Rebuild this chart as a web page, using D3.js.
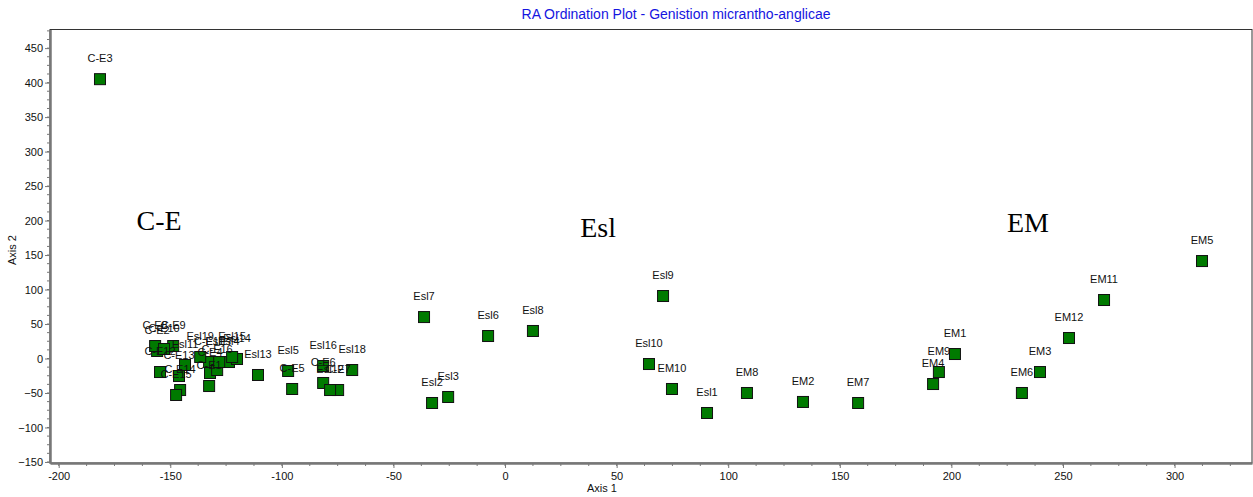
<!DOCTYPE html>
<html>
<head>
<meta charset="utf-8">
<script src="https://cdn.jsdelivr.net/npm/d3@7"></script>
<style>
  html, body { margin: 0; padding: 0; background: #fff; }
  svg { display: block; }
</style>
</head>
<body>
<svg id="chart" width="1253" height="497"></svg>
<script>
// ---- data ----
const sampleNames = [
  "C-E1","C-E2","C-E3","C-E4","C-E5","C-E6","C-E7","C-E8","C-E9","C-E10","C-E11","C-E12","C-E13","C-E14","C-E15","C-E16",
  "Esl1","Esl2","Esl3","Esl4","Esl5","Esl6","Esl7","Esl8","Esl9","Esl10","Esl11","Esl12","Esl13","Esl14","Esl15","Esl16","Esl17","Esl18","Esl19",
  "EM1","EM2","EM3","EM4","EM5","EM6","EM7","EM8","EM9","EM10","EM11","EM12"
];
const axis1Values = [
  -132.6,-155.9,-181.5,-132.2,-95.4,-81.5,-74.8,-156.8,-148.7,-152.8,-132.6,-154.6,-146.1,-145.6,-147.4,-129.0,
  90.5,-32.7,-25.5,-123.7,-97.2,-7.6,-36.3,12.5,70.8,64.5,-143.4,-78.4,-110.7,-120.1,-122.3,-81.5,-128.1,-68.5,-136.6,
  201.6,133.5,239.7,191.8,312.3,231.6,158.2,108.4,194.4,74.8,268.4,252.7
];
const axis2Values = [
  -39.9,10.9,405.0,-21.0,-44.2,-35.5,-45.7,18.1,18.1,13.8,-5.1,-19.6,-25.4,-45.7,-52.9,-16.7,
  -79.0,-64.5,-55.8,-5.1,-18.1,32.6,60.1,39.9,90.6,-8.0,-9.4,-45.7,-23.9,-0.7,2.2,-10.9,-5.1,-16.7,2.2,
  6.5,-63.0,-19.6,-37.0,141.3,-50.0,-64.5,-50.0,-19.6,-44.2,84.8,29.7
];
const xTickValues = [-200,-150,-100,-50,0,50,100,150,200,250,300];
const yTickValues = [-150,-100,-50,0,50,100,150,200,250,300,350,400,450];
const groupNames = ["C-E","Esl","EM"];
const groupAxis1 = [-155, 41.7, 234.3];
const groupAxis2 = [186, 176, 183];
const titleText = "RA Ordination Plot - Genistion micrantho-anglicae";

// ---- layout ----
const svg = d3.select("#chart");
const L = 50, R = 1252, T = 29.5, B = 463;
const x = d3.scaleLinear().domain([-203.9, 334.7]).range([L, R]);
const y = d3.scaleLinear().domain([-151.5, 477]).range([B, T]);
const font = "'Liberation Sans', Arial, sans-serif";

// frame
svg.append("rect").attr("x", L).attr("y", T).attr("width", R - L).attr("height", B - T)
  .attr("fill", "none").attr("stroke", "#333").attr("stroke-width", 1);

// minor ticks
const xMinor = d3.range(-200, 335, 12.5).filter(v => v >= -203.9 && v <= 334.7);
const yMinor = d3.range(-150, 477, 12.5);
svg.append("g").selectAll("line").data(xMinor).join("line")
  .attr("x1", d => x(d)).attr("x2", d => x(d)).attr("y1", B).attr("y2", B + 3)
  .attr("stroke", "#777").attr("stroke-width", 1);
svg.append("g").selectAll("line").data(yMinor).join("line")
  .attr("y1", d => y(d)).attr("y2", d => y(d)).attr("x1", L).attr("x2", L - 3)
  .attr("stroke", "#777").attr("stroke-width", 1);

// axes
const xAxis = d3.axisBottom(x).tickValues(xTickValues).tickSize(5).tickPadding(4).tickSizeOuter(0);
const gx = svg.append("g").attr("transform", `translate(0,${B})`).call(xAxis);
const yAxis = d3.axisLeft(y).tickValues(yTickValues).tickSize(5).tickPadding(2).tickSizeOuter(0);
const gy = svg.append("g").attr("transform", `translate(${L},0)`).call(yAxis);
[gx, gy].forEach(g => {
  g.select(".domain").attr("stroke", "#777").attr("stroke-width", 2.5);
  g.selectAll(".tick line").attr("stroke", "#777");
  g.selectAll(".tick text").attr("fill", "#111").style("font-family", font).style("font-size", "11px");
});
gx.selectAll(".tick text").text(d => d);

// axis titles
svg.append("text").attr("x", 602).attr("y", 492).attr("text-anchor", "middle")
  .style("font-family", font).style("font-size", "11px").attr("fill", "#111").text("Axis 1");
svg.append("text").attr("transform", "translate(16,250) rotate(-90)").attr("text-anchor", "middle")
  .style("font-family", font).style("font-size", "11px").attr("fill", "#111").text("Axis 2");

// title
svg.append("text").attr("x", 676).attr("y", 19).attr("text-anchor", "middle")
  .style("font-family", font).style("font-size", "14px").attr("fill", "#1515e0").text(titleText);

// group annotations
svg.append("g").selectAll("text").data(groupNames).join("text")
  .attr("x", (d, i) => x(groupAxis1[i])).attr("y", (d, i) => y(groupAxis2[i]))
  .attr("text-anchor", "middle")
  .style("font-family", "'Liberation Serif', 'Times New Roman', serif").style("font-size", "28px")
  .attr("fill", "#000").text(d => d);

// points
const pts = sampleNames.map((n, i) => ({ name: n, a1: axis1Values[i], a2: axis2Values[i] }));
const s = 11;
svg.append("g").selectAll("rect").data(pts).join("rect")
  .attr("x", d => x(d.a1) - s / 2).attr("y", d => y(d.a2) - s / 2)
  .attr("width", s).attr("height", s)
  .attr("fill", "#007a00").attr("stroke", "#111").attr("stroke-width", 1);

// labels
svg.append("g").selectAll("text").data(pts).join("text")
  .attr("x", d => x(d.a1)).attr("y", d => y(d.a2) - 17)
  .attr("text-anchor", "middle")
  .style("font-family", font).style("font-size", "11px").attr("fill", "#111")
  .text(d => d.name);
</script>
</body>
</html>
